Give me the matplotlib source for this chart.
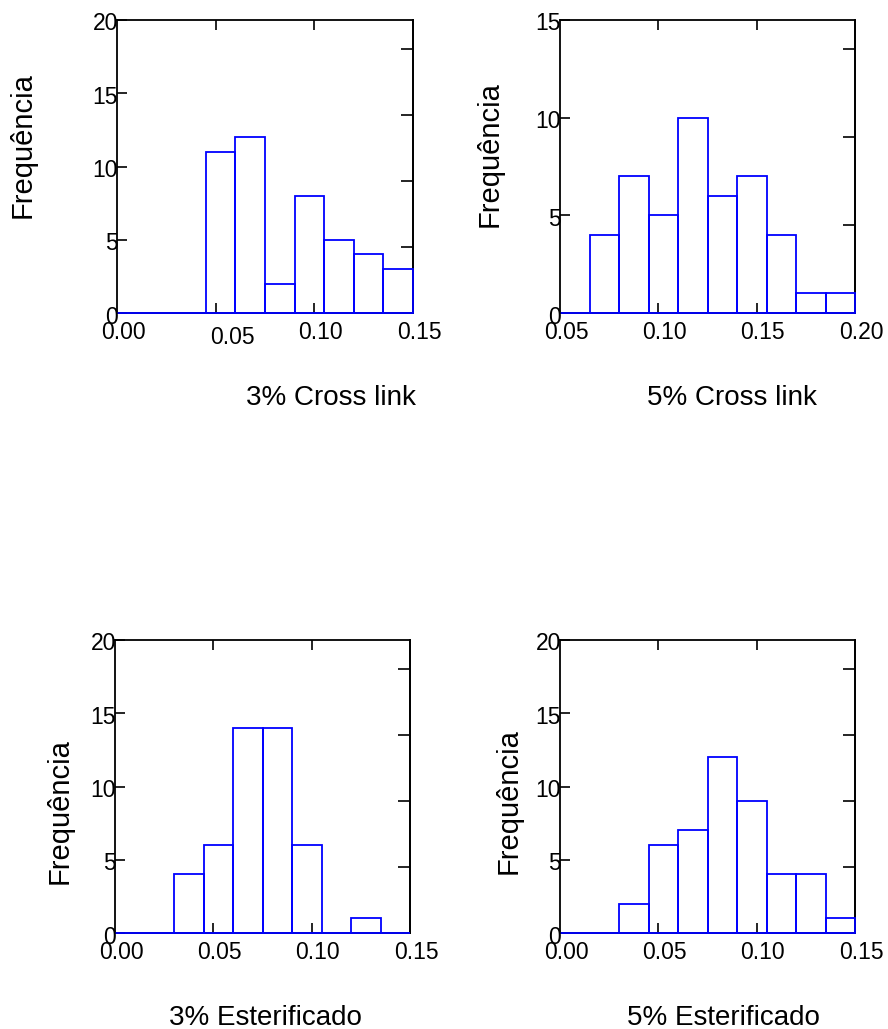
import numpy as np
import matplotlib
matplotlib.use("Agg")
import matplotlib.pyplot as plt
from matplotlib.transforms import blended_transform_factory, offset_copy

plt.rcParams['font.family'] = ['Liberation Sans', 'DejaVu Sans']

# Histogram counts per 0.015-wide bin
bin_width = 0.015

cl3_start = 0.00
cl3_counts = [0, 0, 0, 11, 12, 2, 8, 5, 4, 3]

cl5_start = 0.05
cl5_counts = [0, 4, 7, 5, 10, 6, 7, 4, 1, 1]

est3_start = 0.00
est3_counts = [0, 0, 4, 6, 14, 14, 6, 0, 1, 0]

est5_start = 0.00
est5_counts = [0, 0, 2, 6, 7, 12, 9, 4, 4, 1]

# Axis ranges and tick labels
cl3_xticks = [0.00, 0.05, 0.10, 0.15]
cl3_xlabels = ["0.00", "0.05", "0.10", "0.15"]
cl5_xticks = [0.05, 0.10, 0.15, 0.20]
cl5_xlabels = ["0.05", "0.10", "0.15", "0.20"]
est_xticks = [0.00, 0.05, 0.10, 0.15]
est_xlabels = ["0.00", "0.05", "0.10", "0.15"]

y20_ticks = [0, 5, 10, 15, 20]
y15_ticks = [0, 5, 10, 15]

titles = ["3% Cross link", "5% Cross link", "3% Esterificado", "5% Esterificado"]
ylabel = "Frequência"

BLUE = "#0000ff"
W, H = 888, 1029
fig = plt.figure(figsize=(W / 100, H / 100), dpi=100)


def px_rect(x0, x1, ytop, ybot):
    return [x0 / W, 1 - ybot / H, (x1 - x0) / W, (ybot - ytop) / H]


panels = [
    dict(rect=px_rect(117, 413, 20, 313), start=cl3_start, counts=cl3_counts,
         xticks=cl3_xticks, xlabels=cl3_xlabels, yticks=y20_ticks,
         title=titles[0], title_xy=(331, 405), ylab_xy=(23, 145),
         label_shift={1: (16.5, -24)}),
    dict(rect=px_rect(560, 855, 20, 313), start=cl5_start, counts=cl5_counts,
         xticks=cl5_xticks, xlabels=cl5_xlabels, yticks=y15_ticks,
         title=titles[1], title_xy=(732, 405), ylab_xy=(490, 154),
         label_shift={}),
    dict(rect=px_rect(115, 410, 640, 933), start=est3_start, counts=est3_counts,
         xticks=est_xticks, xlabels=est_xlabels, yticks=y20_ticks,
         title=titles[2], title_xy=(265, 1025), ylab_xy=(60, 811),
         label_shift={}),
    dict(rect=px_rect(560, 855, 640, 933), start=est5_start, counts=est5_counts,
         xticks=est_xticks, xlabels=est_xlabels, yticks=y20_ticks,
         title=titles[3], title_xy=(723, 1025), ylab_xy=(509, 801),
         label_shift={}),
]

for p in panels:
    ax = fig.add_axes(p["rect"])
    counts = np.asarray(p["counts"], dtype=float)
    edges = p["start"] + bin_width * np.arange(len(counts) + 1)
    ax.bar(edges[:-1], counts, width=bin_width, align="edge", fill=False,
           edgecolor=BLUE, linewidth=1.3, zorder=3, clip_on=False)

    xmin, xmax = p["xticks"][0], p["xticks"][-1]
    ymax = p["yticks"][-1]
    ax.set_xlim(xmin, xmax)
    ax.set_ylim(0, ymax)

    for s in ax.spines.values():
        s.set_linewidth(1.3)
        s.set_color("black")

    # inner x ticks on bottom and top, pointing inward
    ax.set_xticks(p["xticks"][1:-1])
    ax.tick_params(axis="x", direction="in", top=True, bottom=True,
                   length=7, width=1.2, labelbottom=False)
    ax.set_yticks(p["yticks"])
    ax.tick_params(axis="y", direction="in", left=True, right=False,
                   length=7, width=1.2, labelleft=False)

    # right-hand axis in percent of the total count
    total = counts.sum()
    sec = ax.secondary_yaxis(
        "right",
        functions=(lambda y, t=total: y / t * 100, lambda q, t=total: q * t / 100))
    pct_ticks = [q for q in (10, 20, 30, 40) if q * total / 100 <= ymax]
    sec.set_yticks(pct_ticks)
    sec.tick_params(direction="in", length=9, width=1.2, labelright=False)
    sec.spines["right"].set_linewidth(1.3)

    # x tick labels
    bt = blended_transform_factory(ax.transData, ax.transAxes)
    for i, (v, lab) in enumerate(zip(p["xticks"], p["xlabels"])):
        dx, dy = p["label_shift"].get(i, (6, -19.5))
        tr = offset_copy(bt, fig=fig, x=dx, y=dy, units="dots")
        ax.text(v, 0, lab, transform=tr, ha="center", va="center",
                fontsize=16.5, clip_on=False)

    # y tick labels, right-aligned over the left spine
    bt_y = blended_transform_factory(ax.transAxes, ax.transData)
    for v in p["yticks"]:
        tr = offset_copy(bt_y, fig=fig, x=1, y=-4, units="dots")
        ax.text(0, v, str(v), transform=tr, ha="right", va="center",
                fontsize=16.5, clip_on=False)

    tx, ty = p["title_xy"]
    fig.text(tx / W, 1 - ty / H, p["title"], ha="center", va="baseline",
             fontsize=20)
    lx, ly = p["ylab_xy"]
    fig.text(lx / W, 1 - ly / H, ylabel, rotation=90, ha="center",
             va="center", fontsize=21)

fig.savefig("out.png", dpi=100)
